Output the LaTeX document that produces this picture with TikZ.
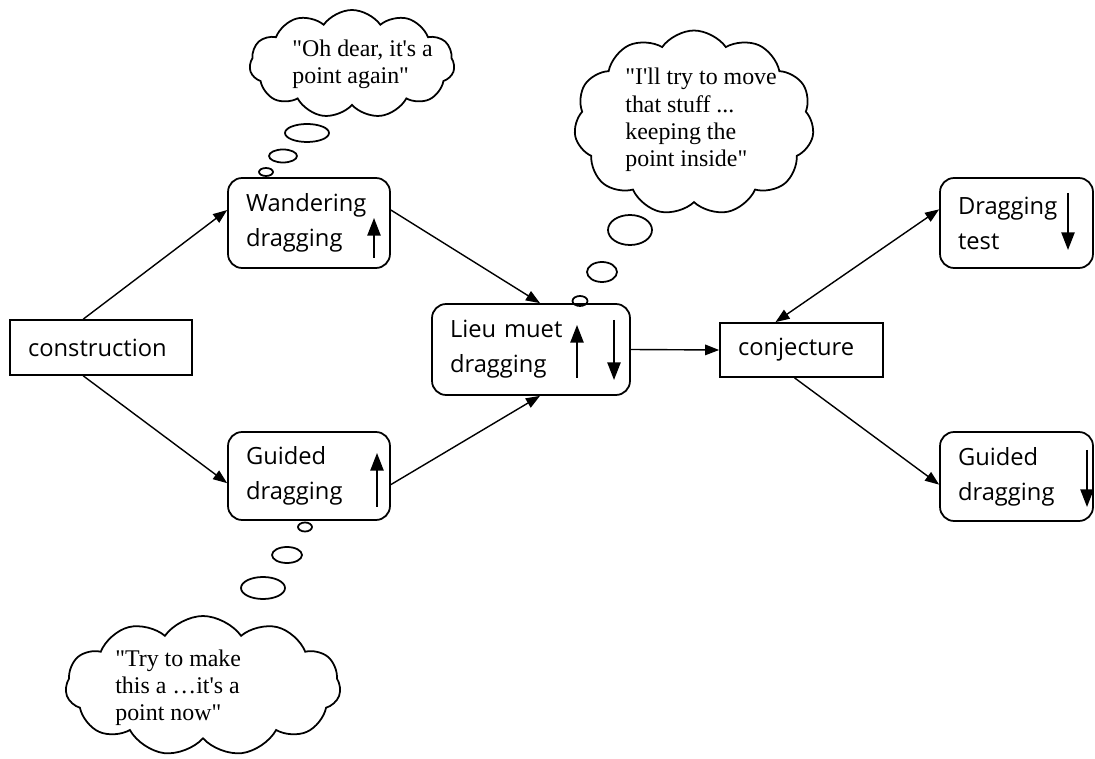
\documentclass[tikz,border=0pt]{standalone}
\usepackage{fontspec}
\setmainfont{Liberation Serif}
\newfontfamily\cloudfont{Liberation Serif}
\newfontfamily\boxfont{Open Sans}
\usepackage{tikz}
\usetikzlibrary{shapes.symbols,arrows.meta}

\begin{document}
\begin{tikzpicture}[x=0.02cm,y=-0.02cm,
    box/.style={draw,line width=1pt,inner xsep=0.36cm,inner ysep=0pt,align=left,
        font=\boxfont\fontsize{13.5}{20}\selectfont},
    rbox/.style={box,rounded corners=8pt},
    thought/.style={draw,line width=1pt,cloud,cloud puffs=11,cloud puff arc=110,
        cloud ignores aspect,inner sep=0pt},
    thoughttext/.style={align=left,anchor=west,inner sep=0pt,
        font=\cloudfont\fontsize{13.6}{15.5}\selectfont},
    link/.style={line width=0.8pt,-{Triangle[length=8pt,width=6pt]}},
    updown/.style={line width=1pt,-{Triangle[length=10pt,width=7.5pt]}}]
  \useasboundingbox (0,0) rectangle (1095,759);

  % boxes
  \node[box,text width=2.92cm,minimum height=1.1cm] (constr) at (101,347.5) {construction};
  \node[rbox,text width=2.52cm,minimum height=1.8cm] (wander) at (309,223) {Wandering\\dragging};
  \node[rbox,text width=2.52cm,minimum height=1.76cm] (guidedL) at (309,476) {Guided\\dragging};
  \node[rbox,text width=3.24cm,minimum height=1.82cm] (lieu) at (531,349.5) {Lieu muet\\dragging};
  \node[box,text width=2.54cm,minimum height=1.08cm] (conj) at (801.5,350) {conjecture};
  \node[rbox,text width=2.34cm,minimum height=1.8cm] (dtest) at (1016.5,223) {Dragging\\test};
  \node[rbox,text width=2.34cm,minimum height=1.78cm] (guidedR) at (1016.5,476.5) {Guided\\dragging};

  % up / down marks in the boxes
  \draw[updown] (374,258)--(374,218);
  \draw[updown] (377,507)--(377,453);
  \draw[updown] (577,378)--(577,325);
  \draw[updown] (614,320)--(614,380);
  \draw[updown] (1068,193)--(1068,250);
  \draw[updown] (1087,450)--(1087,507);

  % connectors
  \draw[link] (constr.122) -- (wander.171);
  \draw[link] (constr.238) -- (guidedL.185);
  \draw[link] (wander.9) -- (lieu.79);
  \draw[link] (guidedL.354) -- (lieu.281);
  \draw[link] (lieu.east) -- (conj.west);
  \draw[link,{Triangle[length=8pt,width=6pt]}-{Triangle[length=8pt,width=6pt]}] (conj.133) -- (dtest.170);
  \draw[link] (conj.256) -- (guidedR.186);

  % thought clouds
  \node[thought,minimum width=4.1cm,minimum height=2.16cm] (oh) at (352,64) {};
  \node[thoughttext] (ohtext) at (292,64) {"Oh dear, it's a\\point again"};
  \draw[line width=1pt] (307,133) ellipse (22 and 9);
  \draw[line width=1pt] (283,156) ellipse (14 and 6.5);
  \draw[line width=1pt] (266,172) ellipse (7 and 4);

  \node[thought,minimum width=4.8cm,minimum height=3.7cm] (move) at (694,123) {};
  \node[thoughttext] (movetext) at (625,120) {"I'll try to move\\that stuff ...\\keeping the\\point inside"};
  \draw[line width=1pt] (630,230) ellipse (22 and 15);
  \draw[line width=1pt] (602,272) ellipse (15 and 10);
  \draw[line width=1pt] (580,301) ellipse (7.5 and 5);

  \node[thought,minimum width=5.5cm,minimum height=2.8cm] (try) at (203,686) {};
  \node[thoughttext] (trytext) at (115,688) {"Try to make\\this a \ldots it's a\\point now"};
  \draw[line width=1pt] (305,527) ellipse (7 and 4.5);
  \draw[line width=1pt] (287,555) ellipse (15 and 8);
  \draw[line width=1pt] (263,588) ellipse (22 and 11);
\end{tikzpicture}
\end{document}
